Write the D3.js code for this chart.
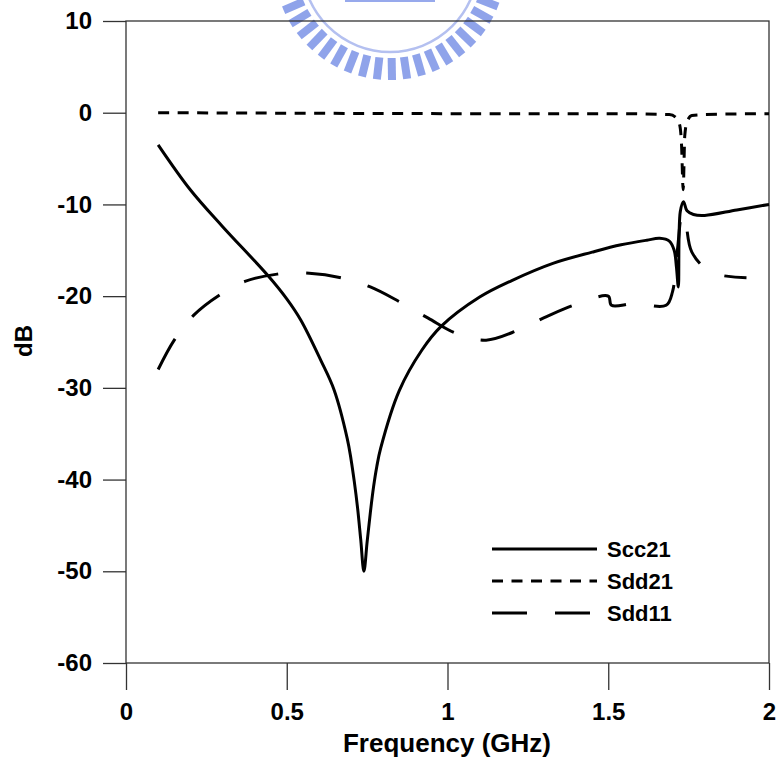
<!DOCTYPE html>
<html>
<head>
<meta charset="utf-8">
<script src="https://cdn.jsdelivr.net/npm/d3@7"></script>
<style>
  body { margin: 0; background: #fff; }
  text { font-family: Arial, "Liberation Sans", sans-serif; font-weight: bold; }
</style>
</head>
<body>
<div id="chart"></div>
<script>
// Scc21 (solid)
const scc21Freq = [0.1, 0.2, 0.3, 0.44, 0.5, 0.5435, 0.606, 0.647, 0.688, 0.7, 0.71, 0.72, 0.73, 0.74, 0.75, 0.76, 0.77, 0.78, 0.792, 0.85, 0.92, 0.98, 1.1, 1.2, 1.33, 1.45, 1.54, 1.62, 1.66, 1.69, 1.705, 1.712, 1.718, 1.724, 1.734, 1.745, 1.765, 1.8, 1.9, 2.0];
const scc21Db = [-3.5, -8.4, -12.4, -17.7, -20.3, -22.6, -27, -30.2, -35.5, -37.8, -40.2, -43, -46.5, -50, -46.8, -43.6, -40.8, -38.6, -36.6, -30.3, -25.9, -23.3, -20.1, -18.3, -16.4, -15.2, -14.4, -13.9, -13.7, -14.0, -15.0, -16.8, -19.0, -10.8, -9.7, -10.7, -11.1, -11.2, -10.6, -10.0];

// Sdd21 (short dash)
const sdd21Freq = [0.1, 0.5, 1.0, 1.5, 1.69, 1.71, 1.722, 1.728, 1.733, 1.738, 1.745, 1.76, 1.8, 2.0];
const sdd21Db = [0, -0.05, -0.1, -0.1, -0.2, -0.5, -1.3, -3.5, -8.4, -2.5, -1.0, -0.3, -0.2, -0.1];

// Sdd11 (long dash)
const sdd11Freq = [0.1, 0.15, 0.21, 0.29, 0.37, 0.47, 0.57, 0.67, 0.76, 0.85, 0.94, 1.03, 1.12, 1.22, 1.31, 1.4, 1.5, 1.51, 1.58, 1.68, 1.7, 1.715, 1.73, 1.74, 1.76, 1.82, 1.93];
const sdd11Db = [-28, -24.8, -22.1, -19.9, -18.4, -17.6, -17.5, -18, -19, -20.6, -22.4, -24.1, -24.8, -23.7, -22.2, -20.9, -20.0, -21.0, -20.8, -21.0, -19.5, -15, -11, -11.8, -15.2, -17.4, -18];

const xTicks = [0, 0.5, 1, 1.5, 2];
const yTicks = [-60, -50, -40, -30, -20, -10, 0, 10];
const seriesNames = ['Scc21', 'Sdd21', 'Sdd11'];

const W = 777, H = 765;
const svg = d3.select('#chart').append('svg')
  .attr('width', W)
  .attr('height', H);

svg.append('rect').attr('width', W).attr('height', H).attr('fill', '#fff');

// faint logo watermark at top
const logo = svg.append('g').attr('transform', 'translate(390,-36)');
logo.append('circle')
  .attr('r', 88)
  .attr('fill', 'none')
  .attr('stroke', '#b4c0f0')
  .attr('stroke-width', 2.5);
logo.selectAll('line.tooth')
  .data(d3.range(14, 170, 7.5))
  .enter()
  .append('line')
  .attr('x1', a => 94 * Math.cos(a * Math.PI / 180))
  .attr('y1', a => 94 * Math.sin(a * Math.PI / 180))
  .attr('x2', a => 116 * Math.cos(a * Math.PI / 180))
  .attr('y2', a => 116 * Math.sin(a * Math.PI / 180))
  .attr('stroke', '#8fa3ea')
  .attr('stroke-width', 8);
logo.append('rect')
  .attr('x', -45).attr('y', 28).attr('width', 90).attr('height', 10)
  .attr('fill', '#97a9ec');

const x = d3.scaleLinear().domain([0, 2]).range([126, 769]);
const y = d3.scaleLinear().domain([-60, 10]).range([663, 21]);

// Y axis
const yAxis = svg.append('g')
  .attr('transform', 'translate(126,0)')
  .call(d3.axisLeft(y).tickValues(yTicks).tickSize(23).tickPadding(11).tickFormat(d => String(d)));
yAxis.select('.domain').remove();
yAxis.selectAll('line').attr('stroke', '#333').attr('stroke-width', 1.3);
yAxis.selectAll('text').attr('fill', '#000').style('font-size', '24px').style('font-weight', 'bold');

// X axis
const xAxis = svg.append('g')
  .attr('transform', 'translate(0,663)')
  .call(d3.axisBottom(x).tickValues(xTicks).tickSize(27).tickPadding(13).tickFormat(d => String(d)));
xAxis.select('.domain').remove();
xAxis.selectAll('line').attr('stroke', '#333').attr('stroke-width', 1.3);
xAxis.selectAll('text').attr('fill', '#000').style('font-size', '24px').style('font-weight', 'bold');

// frame
svg.append('rect')
  .attr('x', 126).attr('y', 21)
  .attr('width', 643).attr('height', 642)
  .attr('fill', 'none')
  .attr('stroke', '#333')
  .attr('stroke-width', 1.3);

const smooth = d3.line()
  .x(d => x(d[0]))
  .y(d => y(d[1]))
  .curve(d3.curveCatmullRom.alpha(0.5));

const mono = d3.line()
  .x(d => x(d[0]))
  .y(d => y(d[1]))
  .curve(d3.curveMonotoneX);

const series = [
  { name: seriesNames[0], data: d3.zip(scc21Freq, scc21Db), dash: null, line: smooth },
  { name: seriesNames[1], data: d3.zip(sdd21Freq, sdd21Db), dash: '11,8.5', line: mono },
  { name: seriesNames[2], data: d3.zip(sdd11Freq, sdd11Db), dash: '35,28', line: smooth }
];

svg.selectAll('.series')
  .data(series)
  .enter()
  .append('path')
  .attr('class', 'series')
  .attr('d', d => d.line(d.data))
  .attr('fill', 'none')
  .attr('stroke', '#000')
  .attr('stroke-width', 3)
  .attr('stroke-dasharray', d => d.dash);

// legend
const legend = svg.append('g');
series.forEach((s, i) => {
  const ly = 549 + i * 32;
  legend.append('line')
    .attr('x1', 492).attr('x2', 597)
    .attr('y1', ly).attr('y2', ly)
    .attr('stroke', '#000')
    .attr('stroke-width', 3)
    .attr('stroke-dasharray', s.dash);
  legend.append('text')
    .attr('x', 607).attr('y', ly)
    .attr('dy', '0.35em')
    .style('font-size', '22px')
    .text(s.name);
});

// axis titles
svg.append('text')
  .attr('x', 447).attr('y', 752)
  .attr('text-anchor', 'middle')
  .style('font-size', '26px')
  .text('Frequency (GHz)');

svg.append('text')
  .attr('transform', 'translate(32,341) rotate(-90)')
  .attr('text-anchor', 'middle')
  .style('font-size', '24px')
  .text('dB');
</script>
</body>
</html>
